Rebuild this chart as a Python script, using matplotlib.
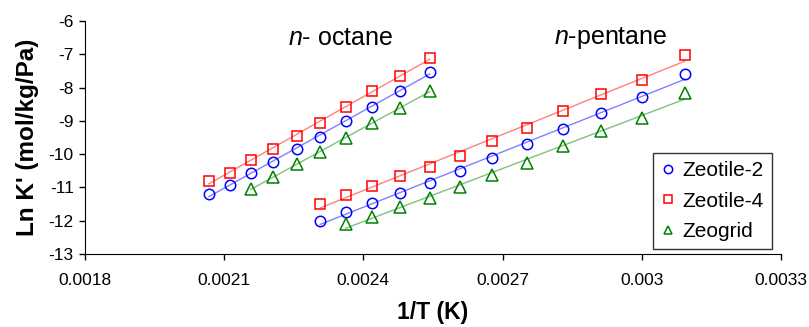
import numpy as np
import matplotlib.pyplot as plt

plt.rcParams["font.family"] = ["Liberation Sans", "DejaVu Sans"]
plt.rcParams["axes.unicode_minus"] = False
plt.rcParams["mathtext.fontset"] = "custom"
plt.rcParams["mathtext.it"] = "Liberation Sans:italic"
plt.rcParams["mathtext.rm"] = "Liberation Sans"

# n-octane, 1/T values and Ln K'
oct_x = [0.002067, 0.002112, 0.002157, 0.002206, 0.002256, 0.002307,
         0.002362, 0.002419, 0.002479, 0.002543]
oct_z2 = [-11.20, -10.93, -10.57, -10.23, -9.85, -9.49, -9.00, -8.57, -8.09, -7.52]
oct_z4 = [-10.80, -10.57, -10.17, -9.85, -9.45, -9.05, -8.57, -8.10, -7.65, -7.12]
oct_zg_x = oct_x[2:]
oct_zg = [-11.05, -10.68, -10.30, -9.95, -9.50, -9.07, -8.62, -8.10]

# n-pentane
pen_x = [0.002307, 0.002362, 0.002419, 0.002479, 0.002543, 0.002609,
         0.002678, 0.002752, 0.002830, 0.002913, 0.003000, 0.003093]
pen_z2 = [-12.02, -11.74, -11.47, -11.17, -10.86, -10.50, -10.11, -9.69,
          -9.25, -8.77, -8.28, -7.60]
pen_z4 = [-11.50, -11.22, -10.95, -10.65, -10.38, -10.05, -9.60, -9.21,
          -8.71, -8.20, -7.77, -7.01]
pen_zg_x = pen_x[1:]
pen_zg = [-12.10, -11.88, -11.58, -11.31, -10.98, -10.62, -10.27, -9.77,
          -9.30, -8.91, -8.15]

series = [
    ("Zeotile-2", "o", "#0000ff", "#8080ff", [(oct_x, oct_z2), (pen_x, pen_z2)]),
    ("Zeotile-4", "s", "#ff0000", "#ff8080", [(oct_x, oct_z4), (pen_x, pen_z4)]),
    ("Zeogrid", "^", "#008000", "#80c080", [(oct_zg_x, oct_zg), (pen_zg_x, pen_zg)]),
]


def main():
    fig = plt.figure(figsize=(8.09, 3.27), dpi=100)
    ax = fig.add_axes([0.105, 0.2232, 0.8604, 0.7126])

    for name, mk, col, lcol, groups in series:
        for i, (xs, ys) in enumerate(groups):
            xs = np.array(xs)
            ys = np.array(ys)
            # linear trendline
            k, b = np.polyfit(xs, ys, 1)
            ax.plot(xs, k * xs + b, color=lcol, lw=1, zorder=1)
            ax.plot(xs, ys, ls="none", marker=mk, ms=7.5 if mk != "^" else 8,
                    mfc="none", mec=col, mew=1.1, zorder=2,
                    label=name if i == 0 else None)

    ax.set_xlim(0.0018, 0.0033)
    ax.set_ylim(-13, -6)
    ax.set_xticks([0.0018, 0.0021, 0.0024, 0.0027, 0.0030, 0.0033])
    ax.set_xticklabels(["0.0018", "0.0021", "0.0024", "0.0027", "0.003", "0.0033"])
    ax.set_yticks(range(-13, -5))
    ax.tick_params(labelsize=12.5, length=4, width=1, direction="out")
    ax.tick_params(axis="x", pad=10)
    ax.tick_params(axis="y", pad=4)
    for s in ["top", "right"]:
        ax.spines[s].set_visible(False)

    ax.set_xlabel("1/T (K)", fontsize=16.5, fontweight="bold", labelpad=9)
    ax.set_ylabel("Ln K' (mol/kg/Pa)", fontsize=17.5, fontweight="bold", labelpad=7)

    ax.text(0.002351, -6.5, r"$n$- octane", fontsize=18, ha="center", va="center")
    ax.text(0.002932, -6.5, r"$n$-pentane", fontsize=18, ha="center", va="center")

    leg = ax.legend(loc="lower right", bbox_to_anchor=(0.987, 0.02), fontsize=15,
                    frameon=True, fancybox=False, edgecolor="black",
                    markerscale=0.8, handlelength=0.6, handletextpad=0.4,
                    borderpad=0.4, labelspacing=0.55, borderaxespad=0)
    leg.get_frame().set_linewidth(1)

    fig.savefig("out.png", dpi=100)
    plt.close(fig)


if __name__ == "__main__":
    main()
